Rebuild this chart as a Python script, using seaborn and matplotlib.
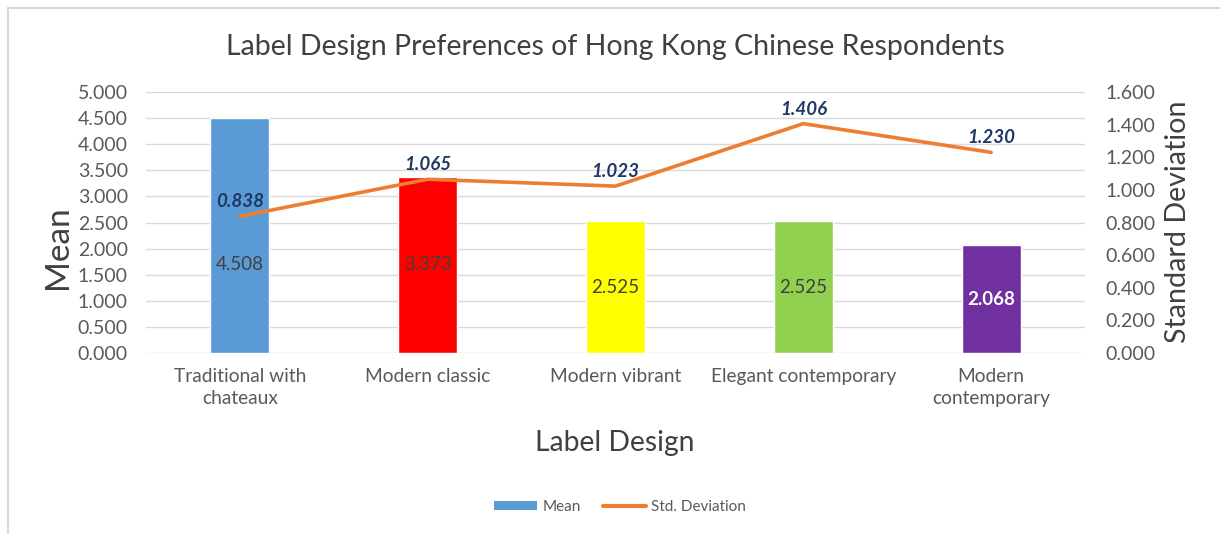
import numpy as np
import matplotlib
matplotlib.use("Agg")
import matplotlib.pyplot as plt
import seaborn as sns
from matplotlib.patches import Rectangle, Patch
from matplotlib.lines import Line2D

categories = ["Traditional with\nchateaux", "Modern classic", "Modern vibrant",
              "Elegant contemporary", "Modern\ncontemporary"]
means = [4.508, 3.373, 2.525, 2.525, 2.068]
std_devs = [0.838, 1.065, 1.023, 1.406, 1.230]
bar_colors = ["#5B9BD5", "#FF0000", "#FFFF00", "#92D050", "#7030A0"]
mean_ticks = [0, 0.5, 1.0, 1.5, 2.0, 2.5, 3.0, 3.5, 4.0, 4.5, 5.0]
std_ticks = [0, 0.2, 0.4, 0.6, 0.8, 1.0, 1.2, 1.4, 1.6]

sns.set_theme(style="white")
plt.rcParams['font.family'] = ['Lato', 'DejaVu Sans']

TXT = "#595959"
fig = plt.figure(figsize=(12.2, 5.34), dpi=100)
fig.patches.append(Rectangle((8/1220, -0.1), 1.2, 1.1 - 8/534, transform=fig.transFigure,
                             fill=False, edgecolor="#D9D9D9", linewidth=1.5))
ax = fig.add_axes([146/1220, 1 - 353/534, (1085-146)/1220, (353-92)/534])

sns.barplot(x=list(range(len(categories))), y=means, hue=list(range(len(categories))),
            palette=bar_colors, width=0.315, legend=False, ax=ax, saturation=1, zorder=2)
ax.set_ylim(0, 5)
ax.set_xlim(-0.5, len(categories) - 0.5)
ax.set_yticks(mean_ticks)
ax.set_yticklabels([f"{t:.3f}" for t in mean_ticks], color=TXT, fontsize=14)
ax.set_xticks(range(len(categories)))
ax.set_xticklabels(categories, color=TXT, fontsize=13.8, linespacing=1.35)
ax.tick_params(axis="y", length=0, pad=13)
ax.tick_params(axis="x", length=0, pad=11)
ax.grid(axis="y", color="#D9D9D9", linewidth=1)
ax.set_axisbelow(True)
for s in ax.spines.values():
    s.set_visible(False)
ax.set_ylabel("")
ax.set_xlabel("")

label_y = [1.686] + [m / 2 for m in means[1:]]
for i, (m, ly) in enumerate(zip(means, label_y)):
    if i == len(means) - 1:
        ax.text(i, ly, f"{m:.3f}", ha="center", va="center", color="white",
                fontsize=13.5, fontweight="bold", zorder=5)
    else:
        ax.text(i, ly, f"{m:.3f}", ha="center", va="center", color="#404040",
                fontsize=13.5, zorder=5)

ax2 = ax.twinx()
sns.lineplot(x=list(range(len(categories))), y=std_devs, color="#ED7D31",
             linewidth=2.6, ax=ax2, zorder=3)
ax2.set_ylim(0, 1.6)
ax2.set_yticks(std_ticks)
ax2.set_yticklabels([f"{t:.3f}" for t in std_ticks], color=TXT, fontsize=14)
ax2.tick_params(axis="y", length=0, pad=14.4)
ax2.grid(False)
for s in ax2.spines.values():
    s.set_visible(False)
ax2.set_ylabel("")
for i, s in enumerate(std_devs):
    ax2.annotate(f"{s:.3f}", (i, s), xytext=(0, 10.5), textcoords="offset points",
                 ha="center", va="center", color="#1F3864", fontsize=13.5,
                 fontweight="bold", fontstyle="italic", zorder=6)

fig.text(615/1220, 1 - 47/534, "Label Design Preferences of Hong Kong Chinese Respondents",
         ha="center", va="center", color="#404040", fontsize=20.5)
fig.text(58/1220, 1 - 247/534, "Mean", rotation=90, ha="center", va="center",
         color="#404040", fontsize=24)
fig.text(1178/1220, 1 - 222/534, "Standard Deviation", rotation=90, ha="center", va="center",
         color="#404040", fontsize=20.6)
fig.text(615/1220, 1 - 443/534, "Label Design", ha="center", va="center",
         color="#404040", fontsize=20.3)

handles = [Patch(facecolor="#5B9BD5", edgecolor="none", label="Mean"),
           Line2D([0], [0], color="#ED7D31", linewidth=3, label="Std. Deviation")]
fig.legend(handles=handles, loc="center", bbox_to_anchor=(620/1220, 1 - 507/534), ncol=2,
           frameon=False, fontsize=11, labelcolor=TXT, handlelength=2.8, handleheight=0.6,
           columnspacing=1.45, handletextpad=0.33)

fig.savefig("out.png", dpi=100)
